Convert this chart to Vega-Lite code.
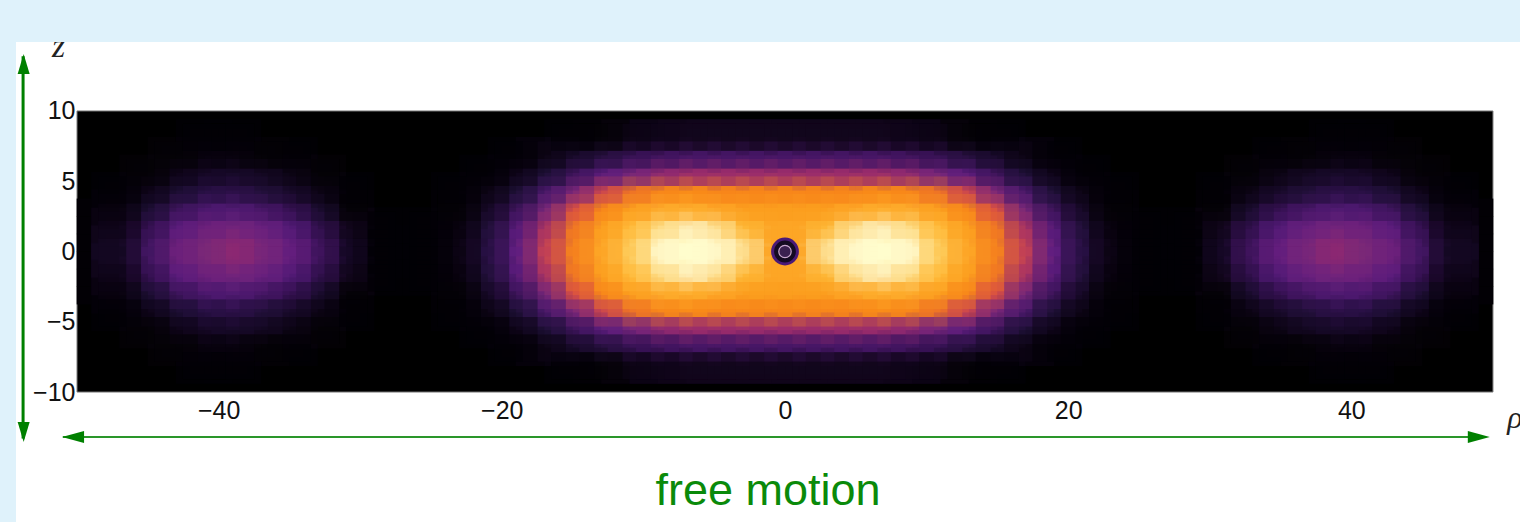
{"$schema":"https://vega.github.io/schema/vega-lite/v6.json","width":1504,"height":480,"autosize":"none","padding":{"left":16,"top":42,"right":0,"bottom":0},"background":"#dff2fb","view":{"fill":"white","stroke":null},
"config":{"axis":{"labelFont":"Liberation Sans","labelFontSize":25,"labelColor":"#111","domain":false,"ticks":false,"grid":false,"title":null,"labelOverlap":false,"labelFlush":false,"labelBound":false}},
"datasets":{"cells":[
{"r":1,"z":0.625,"v":0.72},{"r":3,"z":0.625,"v":0.84},{"r":5,"z":0.625,"v":0.94},{"r":7,"z":0.625,"v":1},{"r":9,"z":0.625,"v":0.92},{"r":11,"z":0.625,"v":0.8},{"r":13,"z":0.625,"v":0.72},{"r":15,"z":0.625,"v":0.64},{"r":17,"z":0.625,"v":0.52},{"r":19,"z":0.625,"v":0.34},{"r":21,"z":0.625,"v":0.17},{"r":23,"z":0.625,"v":0.06},{"r":25,"z":0.625,"v":0.015},{"r":29,"z":0.625,"v":0.01},{"r":31,"z":0.625,"v":0.1},{"r":33,"z":0.625,"v":0.24},{"r":35,"z":0.625,"v":0.35},{"r":37,"z":0.625,"v":0.41},{"r":39,"z":0.625,"v":0.44},{"r":41,"z":0.625,"v":0.42},{"r":43,"z":0.625,"v":0.37},{"r":45,"z":0.625,"v":0.25},{"r":47,"z":0.625,"v":0.09},{"r":49,"z":0.625,"v":0.02},
{"r":-1,"z":0.625,"v":0.72},{"r":-3,"z":0.625,"v":0.84},{"r":-5,"z":0.625,"v":0.94},{"r":-7,"z":0.625,"v":1},{"r":-9,"z":0.625,"v":0.92},{"r":-11,"z":0.625,"v":0.8},{"r":-13,"z":0.625,"v":0.72},{"r":-15,"z":0.625,"v":0.64},{"r":-17,"z":0.625,"v":0.52},{"r":-19,"z":0.625,"v":0.34},{"r":-21,"z":0.625,"v":0.17},{"r":-23,"z":0.625,"v":0.06},{"r":-25,"z":0.625,"v":0.015},{"r":-29,"z":0.625,"v":0.01},{"r":-31,"z":0.625,"v":0.1},{"r":-33,"z":0.625,"v":0.24},{"r":-35,"z":0.625,"v":0.35},{"r":-37,"z":0.625,"v":0.41},{"r":-39,"z":0.625,"v":0.44},{"r":-41,"z":0.625,"v":0.42},{"r":-43,"z":0.625,"v":0.37},{"r":-45,"z":0.625,"v":0.25},{"r":-47,"z":0.625,"v":0.09},{"r":-49,"z":0.625,"v":0.02},
{"r":1,"z":-0.625,"v":0.72},{"r":3,"z":-0.625,"v":0.84},{"r":5,"z":-0.625,"v":0.94},{"r":7,"z":-0.625,"v":1},{"r":9,"z":-0.625,"v":0.92},{"r":11,"z":-0.625,"v":0.8},{"r":13,"z":-0.625,"v":0.72},{"r":15,"z":-0.625,"v":0.64},{"r":17,"z":-0.625,"v":0.52},{"r":19,"z":-0.625,"v":0.34},{"r":21,"z":-0.625,"v":0.17},{"r":23,"z":-0.625,"v":0.06},{"r":25,"z":-0.625,"v":0.015},{"r":29,"z":-0.625,"v":0.01},{"r":31,"z":-0.625,"v":0.1},{"r":33,"z":-0.625,"v":0.24},{"r":35,"z":-0.625,"v":0.35},{"r":37,"z":-0.625,"v":0.41},{"r":39,"z":-0.625,"v":0.44},{"r":41,"z":-0.625,"v":0.42},{"r":43,"z":-0.625,"v":0.37},{"r":45,"z":-0.625,"v":0.25},{"r":47,"z":-0.625,"v":0.09},{"r":49,"z":-0.625,"v":0.02},
{"r":-1,"z":-0.625,"v":0.72},{"r":-3,"z":-0.625,"v":0.84},{"r":-5,"z":-0.625,"v":0.94},{"r":-7,"z":-0.625,"v":1},{"r":-9,"z":-0.625,"v":0.92},{"r":-11,"z":-0.625,"v":0.8},{"r":-13,"z":-0.625,"v":0.72},{"r":-15,"z":-0.625,"v":0.64},{"r":-17,"z":-0.625,"v":0.52},{"r":-19,"z":-0.625,"v":0.34},{"r":-21,"z":-0.625,"v":0.17},{"r":-23,"z":-0.625,"v":0.06},{"r":-25,"z":-0.625,"v":0.015},{"r":-29,"z":-0.625,"v":0.01},{"r":-31,"z":-0.625,"v":0.1},{"r":-33,"z":-0.625,"v":0.24},{"r":-35,"z":-0.625,"v":0.35},{"r":-37,"z":-0.625,"v":0.41},{"r":-39,"z":-0.625,"v":0.44},{"r":-41,"z":-0.625,"v":0.42},{"r":-43,"z":-0.625,"v":0.37},{"r":-45,"z":-0.625,"v":0.25},{"r":-47,"z":-0.625,"v":0.09},{"r":-49,"z":-0.625,"v":0.02},
{"r":1,"z":1.875,"v":0.72},{"r":3,"z":1.875,"v":0.76},{"r":5,"z":1.875,"v":0.84},{"r":7,"z":1.875,"v":0.87},{"r":9,"z":1.875,"v":0.83},{"r":11,"z":1.875,"v":0.77},{"r":13,"z":1.875,"v":0.7},{"r":15,"z":1.875,"v":0.62},{"r":17,"z":1.875,"v":0.48},{"r":19,"z":1.875,"v":0.31},{"r":21,"z":1.875,"v":0.15},{"r":23,"z":1.875,"v":0.05},{"r":25,"z":1.875,"v":0.01},{"r":29,"z":1.875,"v":0.01},{"r":31,"z":1.875,"v":0.08},{"r":33,"z":1.875,"v":0.19},{"r":35,"z":1.875,"v":0.3},{"r":37,"z":1.875,"v":0.36},{"r":39,"z":1.875,"v":0.39},{"r":41,"z":1.875,"v":0.37},{"r":43,"z":1.875,"v":0.32},{"r":45,"z":1.875,"v":0.2},{"r":47,"z":1.875,"v":0.07},{"r":49,"z":1.875,"v":0.015},
{"r":-1,"z":1.875,"v":0.72},{"r":-3,"z":1.875,"v":0.76},{"r":-5,"z":1.875,"v":0.84},{"r":-7,"z":1.875,"v":0.87},{"r":-9,"z":1.875,"v":0.83},{"r":-11,"z":1.875,"v":0.77},{"r":-13,"z":1.875,"v":0.7},{"r":-15,"z":1.875,"v":0.62},{"r":-17,"z":1.875,"v":0.48},{"r":-19,"z":1.875,"v":0.31},{"r":-21,"z":1.875,"v":0.15},{"r":-23,"z":1.875,"v":0.05},{"r":-25,"z":1.875,"v":0.01},{"r":-29,"z":1.875,"v":0.01},{"r":-31,"z":1.875,"v":0.08},{"r":-33,"z":1.875,"v":0.19},{"r":-35,"z":1.875,"v":0.3},{"r":-37,"z":1.875,"v":0.36},{"r":-39,"z":1.875,"v":0.39},{"r":-41,"z":1.875,"v":0.37},{"r":-43,"z":1.875,"v":0.32},{"r":-45,"z":1.875,"v":0.2},{"r":-47,"z":1.875,"v":0.07},{"r":-49,"z":1.875,"v":0.015},
{"r":1,"z":-1.875,"v":0.72},{"r":3,"z":-1.875,"v":0.76},{"r":5,"z":-1.875,"v":0.84},{"r":7,"z":-1.875,"v":0.87},{"r":9,"z":-1.875,"v":0.83},{"r":11,"z":-1.875,"v":0.77},{"r":13,"z":-1.875,"v":0.7},{"r":15,"z":-1.875,"v":0.62},{"r":17,"z":-1.875,"v":0.48},{"r":19,"z":-1.875,"v":0.31},{"r":21,"z":-1.875,"v":0.15},{"r":23,"z":-1.875,"v":0.05},{"r":25,"z":-1.875,"v":0.01},{"r":29,"z":-1.875,"v":0.01},{"r":31,"z":-1.875,"v":0.08},{"r":33,"z":-1.875,"v":0.19},{"r":35,"z":-1.875,"v":0.3},{"r":37,"z":-1.875,"v":0.36},{"r":39,"z":-1.875,"v":0.39},{"r":41,"z":-1.875,"v":0.37},{"r":43,"z":-1.875,"v":0.32},{"r":45,"z":-1.875,"v":0.2},{"r":47,"z":-1.875,"v":0.07},{"r":49,"z":-1.875,"v":0.015},
{"r":-1,"z":-1.875,"v":0.72},{"r":-3,"z":-1.875,"v":0.76},{"r":-5,"z":-1.875,"v":0.84},{"r":-7,"z":-1.875,"v":0.87},{"r":-9,"z":-1.875,"v":0.83},{"r":-11,"z":-1.875,"v":0.77},{"r":-13,"z":-1.875,"v":0.7},{"r":-15,"z":-1.875,"v":0.62},{"r":-17,"z":-1.875,"v":0.48},{"r":-19,"z":-1.875,"v":0.31},{"r":-21,"z":-1.875,"v":0.15},{"r":-23,"z":-1.875,"v":0.05},{"r":-25,"z":-1.875,"v":0.01},{"r":-29,"z":-1.875,"v":0.01},{"r":-31,"z":-1.875,"v":0.08},{"r":-33,"z":-1.875,"v":0.19},{"r":-35,"z":-1.875,"v":0.3},{"r":-37,"z":-1.875,"v":0.36},{"r":-39,"z":-1.875,"v":0.39},{"r":-41,"z":-1.875,"v":0.37},{"r":-43,"z":-1.875,"v":0.32},{"r":-45,"z":-1.875,"v":0.2},{"r":-47,"z":-1.875,"v":0.07},{"r":-49,"z":-1.875,"v":0.015},
{"r":1,"z":3.125,"v":0.7},{"r":3,"z":3.125,"v":0.7},{"r":5,"z":3.125,"v":0.72},{"r":7,"z":3.125,"v":0.74},{"r":9,"z":3.125,"v":0.73},{"r":11,"z":3.125,"v":0.7},{"r":13,"z":3.125,"v":0.65},{"r":15,"z":3.125,"v":0.55},{"r":17,"z":3.125,"v":0.4},{"r":19,"z":3.125,"v":0.23},{"r":21,"z":3.125,"v":0.1},{"r":23,"z":3.125,"v":0.03},{"r":31,"z":3.125,"v":0.04},{"r":33,"z":3.125,"v":0.12},{"r":35,"z":3.125,"v":0.2},{"r":37,"z":3.125,"v":0.26},{"r":39,"z":3.125,"v":0.29},{"r":41,"z":3.125,"v":0.28},{"r":43,"z":3.125,"v":0.23},{"r":45,"z":3.125,"v":0.13},{"r":47,"z":3.125,"v":0.05},{"r":49,"z":3.125,"v":0.01},
{"r":-1,"z":3.125,"v":0.7},{"r":-3,"z":3.125,"v":0.7},{"r":-5,"z":3.125,"v":0.72},{"r":-7,"z":3.125,"v":0.74},{"r":-9,"z":3.125,"v":0.73},{"r":-11,"z":3.125,"v":0.7},{"r":-13,"z":3.125,"v":0.65},{"r":-15,"z":3.125,"v":0.55},{"r":-17,"z":3.125,"v":0.4},{"r":-19,"z":3.125,"v":0.23},{"r":-21,"z":3.125,"v":0.1},{"r":-23,"z":3.125,"v":0.03},{"r":-31,"z":3.125,"v":0.04},{"r":-33,"z":3.125,"v":0.12},{"r":-35,"z":3.125,"v":0.2},{"r":-37,"z":3.125,"v":0.26},{"r":-39,"z":3.125,"v":0.29},{"r":-41,"z":3.125,"v":0.28},{"r":-43,"z":3.125,"v":0.23},{"r":-45,"z":3.125,"v":0.13},{"r":-47,"z":3.125,"v":0.05},{"r":-49,"z":3.125,"v":0.01},
{"r":1,"z":-3.125,"v":0.7},{"r":3,"z":-3.125,"v":0.7},{"r":5,"z":-3.125,"v":0.72},{"r":7,"z":-3.125,"v":0.74},{"r":9,"z":-3.125,"v":0.73},{"r":11,"z":-3.125,"v":0.7},{"r":13,"z":-3.125,"v":0.65},{"r":15,"z":-3.125,"v":0.55},{"r":17,"z":-3.125,"v":0.4},{"r":19,"z":-3.125,"v":0.23},{"r":21,"z":-3.125,"v":0.1},{"r":23,"z":-3.125,"v":0.03},{"r":31,"z":-3.125,"v":0.04},{"r":33,"z":-3.125,"v":0.12},{"r":35,"z":-3.125,"v":0.2},{"r":37,"z":-3.125,"v":0.26},{"r":39,"z":-3.125,"v":0.29},{"r":41,"z":-3.125,"v":0.28},{"r":43,"z":-3.125,"v":0.23},{"r":45,"z":-3.125,"v":0.13},{"r":47,"z":-3.125,"v":0.05},{"r":49,"z":-3.125,"v":0.01},
{"r":-1,"z":-3.125,"v":0.7},{"r":-3,"z":-3.125,"v":0.7},{"r":-5,"z":-3.125,"v":0.72},{"r":-7,"z":-3.125,"v":0.74},{"r":-9,"z":-3.125,"v":0.73},{"r":-11,"z":-3.125,"v":0.7},{"r":-13,"z":-3.125,"v":0.65},{"r":-15,"z":-3.125,"v":0.55},{"r":-17,"z":-3.125,"v":0.4},{"r":-19,"z":-3.125,"v":0.23},{"r":-21,"z":-3.125,"v":0.1},{"r":-23,"z":-3.125,"v":0.03},{"r":-31,"z":-3.125,"v":0.04},{"r":-33,"z":-3.125,"v":0.12},{"r":-35,"z":-3.125,"v":0.2},{"r":-37,"z":-3.125,"v":0.26},{"r":-39,"z":-3.125,"v":0.29},{"r":-41,"z":-3.125,"v":0.28},{"r":-43,"z":-3.125,"v":0.23},{"r":-45,"z":-3.125,"v":0.13},{"r":-47,"z":-3.125,"v":0.05},{"r":-49,"z":-3.125,"v":0.01},
{"r":1,"z":4.375,"v":0.65},{"r":3,"z":4.375,"v":0.65},{"r":5,"z":4.375,"v":0.65},{"r":7,"z":4.375,"v":0.66},{"r":9,"z":4.375,"v":0.65},{"r":11,"z":4.375,"v":0.61},{"r":13,"z":4.375,"v":0.53},{"r":15,"z":4.375,"v":0.41},{"r":17,"z":4.375,"v":0.27},{"r":19,"z":4.375,"v":0.14},{"r":21,"z":4.375,"v":0.06},{"r":23,"z":4.375,"v":0.015},{"r":31,"z":4.375,"v":0.02},{"r":33,"z":4.375,"v":0.06},{"r":35,"z":4.375,"v":0.11},{"r":37,"z":4.375,"v":0.15},{"r":39,"z":4.375,"v":0.18},{"r":41,"z":4.375,"v":0.17},{"r":43,"z":4.375,"v":0.13},{"r":45,"z":4.375,"v":0.07},{"r":47,"z":4.375,"v":0.02},
{"r":-1,"z":4.375,"v":0.65},{"r":-3,"z":4.375,"v":0.65},{"r":-5,"z":4.375,"v":0.65},{"r":-7,"z":4.375,"v":0.66},{"r":-9,"z":4.375,"v":0.65},{"r":-11,"z":4.375,"v":0.61},{"r":-13,"z":4.375,"v":0.53},{"r":-15,"z":4.375,"v":0.41},{"r":-17,"z":4.375,"v":0.27},{"r":-19,"z":4.375,"v":0.14},{"r":-21,"z":4.375,"v":0.06},{"r":-23,"z":4.375,"v":0.015},{"r":-31,"z":4.375,"v":0.02},{"r":-33,"z":4.375,"v":0.06},{"r":-35,"z":4.375,"v":0.11},{"r":-37,"z":4.375,"v":0.15},{"r":-39,"z":4.375,"v":0.18},{"r":-41,"z":4.375,"v":0.17},{"r":-43,"z":4.375,"v":0.13},{"r":-45,"z":4.375,"v":0.07},{"r":-47,"z":4.375,"v":0.02},
{"r":1,"z":-4.375,"v":0.65},{"r":3,"z":-4.375,"v":0.65},{"r":5,"z":-4.375,"v":0.65},{"r":7,"z":-4.375,"v":0.66},{"r":9,"z":-4.375,"v":0.65},{"r":11,"z":-4.375,"v":0.61},{"r":13,"z":-4.375,"v":0.53},{"r":15,"z":-4.375,"v":0.41},{"r":17,"z":-4.375,"v":0.27},{"r":19,"z":-4.375,"v":0.14},{"r":21,"z":-4.375,"v":0.06},{"r":23,"z":-4.375,"v":0.015},{"r":31,"z":-4.375,"v":0.02},{"r":33,"z":-4.375,"v":0.06},{"r":35,"z":-4.375,"v":0.11},{"r":37,"z":-4.375,"v":0.15},{"r":39,"z":-4.375,"v":0.18},{"r":41,"z":-4.375,"v":0.17},{"r":43,"z":-4.375,"v":0.13},{"r":45,"z":-4.375,"v":0.07},{"r":47,"z":-4.375,"v":0.02},
{"r":-1,"z":-4.375,"v":0.65},{"r":-3,"z":-4.375,"v":0.65},{"r":-5,"z":-4.375,"v":0.65},{"r":-7,"z":-4.375,"v":0.66},{"r":-9,"z":-4.375,"v":0.65},{"r":-11,"z":-4.375,"v":0.61},{"r":-13,"z":-4.375,"v":0.53},{"r":-15,"z":-4.375,"v":0.41},{"r":-17,"z":-4.375,"v":0.27},{"r":-19,"z":-4.375,"v":0.14},{"r":-21,"z":-4.375,"v":0.06},{"r":-23,"z":-4.375,"v":0.015},{"r":-31,"z":-4.375,"v":0.02},{"r":-33,"z":-4.375,"v":0.06},{"r":-35,"z":-4.375,"v":0.11},{"r":-37,"z":-4.375,"v":0.15},{"r":-39,"z":-4.375,"v":0.18},{"r":-41,"z":-4.375,"v":0.17},{"r":-43,"z":-4.375,"v":0.13},{"r":-45,"z":-4.375,"v":0.07},{"r":-47,"z":-4.375,"v":0.02},
{"r":1,"z":5.625,"v":0.46},{"r":3,"z":5.625,"v":0.46},{"r":5,"z":5.625,"v":0.46},{"r":7,"z":5.625,"v":0.46},{"r":9,"z":5.625,"v":0.44},{"r":11,"z":5.625,"v":0.39},{"r":13,"z":5.625,"v":0.32},{"r":15,"z":5.625,"v":0.23},{"r":17,"z":5.625,"v":0.14},{"r":19,"z":5.625,"v":0.07},{"r":21,"z":5.625,"v":0.025},{"r":33,"z":5.625,"v":0.03},{"r":35,"z":5.625,"v":0.06},{"r":37,"z":5.625,"v":0.09},{"r":39,"z":5.625,"v":0.11},{"r":41,"z":5.625,"v":0.1},{"r":43,"z":5.625,"v":0.07},{"r":45,"z":5.625,"v":0.03},
{"r":-1,"z":5.625,"v":0.46},{"r":-3,"z":5.625,"v":0.46},{"r":-5,"z":5.625,"v":0.46},{"r":-7,"z":5.625,"v":0.46},{"r":-9,"z":5.625,"v":0.44},{"r":-11,"z":5.625,"v":0.39},{"r":-13,"z":5.625,"v":0.32},{"r":-15,"z":5.625,"v":0.23},{"r":-17,"z":5.625,"v":0.14},{"r":-19,"z":5.625,"v":0.07},{"r":-21,"z":5.625,"v":0.025},{"r":-33,"z":5.625,"v":0.03},{"r":-35,"z":5.625,"v":0.06},{"r":-37,"z":5.625,"v":0.09},{"r":-39,"z":5.625,"v":0.11},{"r":-41,"z":5.625,"v":0.1},{"r":-43,"z":5.625,"v":0.07},{"r":-45,"z":5.625,"v":0.03},
{"r":1,"z":-5.625,"v":0.46},{"r":3,"z":-5.625,"v":0.46},{"r":5,"z":-5.625,"v":0.46},{"r":7,"z":-5.625,"v":0.46},{"r":9,"z":-5.625,"v":0.44},{"r":11,"z":-5.625,"v":0.39},{"r":13,"z":-5.625,"v":0.32},{"r":15,"z":-5.625,"v":0.23},{"r":17,"z":-5.625,"v":0.14},{"r":19,"z":-5.625,"v":0.07},{"r":21,"z":-5.625,"v":0.025},{"r":33,"z":-5.625,"v":0.03},{"r":35,"z":-5.625,"v":0.06},{"r":37,"z":-5.625,"v":0.09},{"r":39,"z":-5.625,"v":0.11},{"r":41,"z":-5.625,"v":0.1},{"r":43,"z":-5.625,"v":0.07},{"r":45,"z":-5.625,"v":0.03},
{"r":-1,"z":-5.625,"v":0.46},{"r":-3,"z":-5.625,"v":0.46},{"r":-5,"z":-5.625,"v":0.46},{"r":-7,"z":-5.625,"v":0.46},{"r":-9,"z":-5.625,"v":0.44},{"r":-11,"z":-5.625,"v":0.39},{"r":-13,"z":-5.625,"v":0.32},{"r":-15,"z":-5.625,"v":0.23},{"r":-17,"z":-5.625,"v":0.14},{"r":-19,"z":-5.625,"v":0.07},{"r":-21,"z":-5.625,"v":0.025},{"r":-33,"z":-5.625,"v":0.03},{"r":-35,"z":-5.625,"v":0.06},{"r":-37,"z":-5.625,"v":0.09},{"r":-39,"z":-5.625,"v":0.11},{"r":-41,"z":-5.625,"v":0.1},{"r":-43,"z":-5.625,"v":0.07},{"r":-45,"z":-5.625,"v":0.03},
{"r":1,"z":6.875,"v":0.26},{"r":3,"z":6.875,"v":0.26},{"r":5,"z":6.875,"v":0.26},{"r":7,"z":6.875,"v":0.26},{"r":9,"z":6.875,"v":0.24},{"r":11,"z":6.875,"v":0.21},{"r":13,"z":6.875,"v":0.16},{"r":15,"z":6.875,"v":0.11},{"r":17,"z":6.875,"v":0.06},{"r":19,"z":6.875,"v":0.025},{"r":35,"z":6.875,"v":0.025},{"r":37,"z":6.875,"v":0.04},{"r":39,"z":6.875,"v":0.05},{"r":41,"z":6.875,"v":0.05},{"r":43,"z":6.875,"v":0.03},
{"r":-1,"z":6.875,"v":0.26},{"r":-3,"z":6.875,"v":0.26},{"r":-5,"z":6.875,"v":0.26},{"r":-7,"z":6.875,"v":0.26},{"r":-9,"z":6.875,"v":0.24},{"r":-11,"z":6.875,"v":0.21},{"r":-13,"z":6.875,"v":0.16},{"r":-15,"z":6.875,"v":0.11},{"r":-17,"z":6.875,"v":0.06},{"r":-19,"z":6.875,"v":0.025},{"r":-35,"z":6.875,"v":0.025},{"r":-37,"z":6.875,"v":0.04},{"r":-39,"z":6.875,"v":0.05},{"r":-41,"z":6.875,"v":0.05},{"r":-43,"z":6.875,"v":0.03},
{"r":1,"z":-6.875,"v":0.26},{"r":3,"z":-6.875,"v":0.26},{"r":5,"z":-6.875,"v":0.26},{"r":7,"z":-6.875,"v":0.26},{"r":9,"z":-6.875,"v":0.24},{"r":11,"z":-6.875,"v":0.21},{"r":13,"z":-6.875,"v":0.16},{"r":15,"z":-6.875,"v":0.11},{"r":17,"z":-6.875,"v":0.06},{"r":19,"z":-6.875,"v":0.025},{"r":35,"z":-6.875,"v":0.025},{"r":37,"z":-6.875,"v":0.04},{"r":39,"z":-6.875,"v":0.05},{"r":41,"z":-6.875,"v":0.05},{"r":43,"z":-6.875,"v":0.03},
{"r":-1,"z":-6.875,"v":0.26},{"r":-3,"z":-6.875,"v":0.26},{"r":-5,"z":-6.875,"v":0.26},{"r":-7,"z":-6.875,"v":0.26},{"r":-9,"z":-6.875,"v":0.24},{"r":-11,"z":-6.875,"v":0.21},{"r":-13,"z":-6.875,"v":0.16},{"r":-15,"z":-6.875,"v":0.11},{"r":-17,"z":-6.875,"v":0.06},{"r":-19,"z":-6.875,"v":0.025},{"r":-35,"z":-6.875,"v":0.025},{"r":-37,"z":-6.875,"v":0.04},{"r":-39,"z":-6.875,"v":0.05},{"r":-41,"z":-6.875,"v":0.05},{"r":-43,"z":-6.875,"v":0.03},
{"r":1,"z":8.125,"v":0.08},{"r":3,"z":8.125,"v":0.08},{"r":5,"z":8.125,"v":0.08},{"r":7,"z":8.125,"v":0.08},{"r":9,"z":8.125,"v":0.07},{"r":11,"z":8.125,"v":0.06},{"r":13,"z":8.125,"v":0.04},{"r":15,"z":8.125,"v":0.025},{"r":39,"z":8.125,"v":0.015},{"r":41,"z":8.125,"v":0.015},
{"r":-1,"z":8.125,"v":0.08},{"r":-3,"z":8.125,"v":0.08},{"r":-5,"z":8.125,"v":0.08},{"r":-7,"z":8.125,"v":0.08},{"r":-9,"z":8.125,"v":0.07},{"r":-11,"z":8.125,"v":0.06},{"r":-13,"z":8.125,"v":0.04},{"r":-15,"z":8.125,"v":0.025},{"r":-39,"z":8.125,"v":0.015},{"r":-41,"z":8.125,"v":0.015},
{"r":1,"z":-8.125,"v":0.08},{"r":3,"z":-8.125,"v":0.08},{"r":5,"z":-8.125,"v":0.08},{"r":7,"z":-8.125,"v":0.08},{"r":9,"z":-8.125,"v":0.07},{"r":11,"z":-8.125,"v":0.06},{"r":13,"z":-8.125,"v":0.04},{"r":15,"z":-8.125,"v":0.025},{"r":39,"z":-8.125,"v":0.015},{"r":41,"z":-8.125,"v":0.015},
{"r":-1,"z":-8.125,"v":0.08},{"r":-3,"z":-8.125,"v":0.08},{"r":-5,"z":-8.125,"v":0.08},{"r":-7,"z":-8.125,"v":0.08},{"r":-9,"z":-8.125,"v":0.07},{"r":-11,"z":-8.125,"v":0.06},{"r":-13,"z":-8.125,"v":0.04},{"r":-15,"z":-8.125,"v":0.025},{"r":-39,"z":-8.125,"v":0.015},{"r":-41,"z":-8.125,"v":0.015}
]},
"encoding":{"x":{"field":"r","type":"quantitative","scale":{"domain":[-54.31,51.91],"nice":false,"zero":false},"axis":{"values":[-40,-20,0,20,40],"offset":-130,"labelPadding":6,"tickSize":0}},"y":{"field":"z","type":"quantitative","scale":{"domain":[-19.25,14.91],"nice":false,"zero":false},"axis":{"values":[-10,-5,0,5,10],"offset":-61,"labelPadding":2,"tickSize":0}},"color":{"field":"v","type":"quantitative","legend":null,"scale":{"domain":[0,0.04,0.1,0.2,0.33,0.42,0.5,0.58,0.67,0.78,0.88,1],"range":["#000000","#030106","#150825","#33104f","#5c1c80","#7a2878","#b03a5c","#e4622c","#fb9112","#ffbe3c","#fff0c0","#ffffff"]}}},
"layer":[
{"data":{"values":[{"r":-50,"r2":50,"z":-10,"z2":10}]},"mark":{"type":"rect","fill":"#000","stroke":"#777","strokeWidth":1},"encoding":{"color":{"value":"#000"},"x2":{"field":"r2"},"y2":{"field":"z2"}}},
{"data":{"name":"cells"},"mark":{"type":"rect","width":29,"height":18}},
{"data":{"name":"cells"},"transform":[{"filter":"abs(datum.z)<9&&abs(datum.r)<48"}],"mark":{"type":"rect","width":57,"height":36,"opacity":0.5},"encoding":{"order":[{"field":"r"},{"field":"z"}]}},
{"data":{"name":"cells"},"transform":[{"filter":"abs(datum.z)<9&&abs(datum.r)<48"}],"mark":{"type":"rect","width":57,"height":36,"opacity":0.5},"encoding":{"order":[{"field":"r","sort":"descending"},{"field":"z","sort":"descending"}]}},
{"data":{"name":"cells"},"transform":[{"filter":"abs(datum.z)<9&&abs(datum.r)<48"}],"mark":{"type":"rect","width":43,"height":27,"opacity":0.5},"encoding":{"order":[{"field":"r"},{"field":"z","sort":"descending"}]}},
{"data":{"name":"cells"},"transform":[{"filter":"abs(datum.z)<9&&abs(datum.r)<48"}],"mark":{"type":"rect","width":43,"height":27,"opacity":0.5},"encoding":{"order":[{"field":"r","sort":"descending"},{"field":"z"}]}},
{"data":{"values":[{"r":0,"z":0}]},"mark":{"type":"point","filled":true,"size":615,"fill":"#140a22","stroke":"#4b1a78","strokeWidth":3,"opacity":1},"encoding":{"color":{"value":"#140a22"}}},
{"data":{"values":[{"r":0,"z":0}]},"mark":{"type":"point","filled":false,"size":154,"strokeWidth":1.2,"fill":"#3a2050","fillOpacity":1,"opacity":1},"encoding":{"color":{"value":"#c9a8d0"}}},
{"data":{"values":[{"r":-53.81,"z":13.9,"z2":-13.3}]},"mark":{"type":"rule","strokeWidth":3},"encoding":{"color":{"value":"#008000"},"y2":{"field":"z2"}}},
{"data":{"values":[{"r":-51,"r2":49.5,"z":-13.2}]},"mark":{"type":"rule","strokeWidth":2},"encoding":{"color":{"value":"#2a962a"},"x2":{"field":"r2"}}},
{"data":{"values":[{"r":-53.77,"z":13.35}]},"mark":{"type":"point","filled":true,"opacity":1,"size":400,"shape":"M0,-1L0.6,1L-0.6,1Z"},"encoding":{"color":{"value":"#008000"}}},
{"data":{"values":[{"r":-53.77,"z":-12.85}]},"mark":{"type":"point","filled":true,"opacity":1,"size":400,"shape":"M0,1L0.6,-1L-0.6,-1Z"},"encoding":{"color":{"value":"#008000"}}},
{"data":{"values":[{"r":-50.28,"z":-13.2}]},"mark":{"type":"point","filled":true,"opacity":1,"size":484,"shape":"M-1,0L1,-0.55L1,0.55Z"},"encoding":{"color":{"value":"#008000"}}},
{"data":{"values":[{"r":49,"z":-13.2}]},"mark":{"type":"point","filled":true,"opacity":1,"size":484,"shape":"M1,0L-1,-0.55L-1,0.55Z"},"encoding":{"color":{"value":"#008000"}}},
{"data":{"values":[{"r":-1.2,"z":-17.05,"t":"free motion"}]},"mark":{"type":"text","font":"Liberation Sans","fontSize":45,"align":"center","baseline":"middle"},"encoding":{"color":{"value":"#0a8a0a"},"text":{"field":"t"}}},
{"data":{"values":[{"r":-51.3,"z":14.55,"t":"z"}]},"mark":{"type":"text","font":"Liberation Serif","fontStyle":"italic","fontSize":34,"align":"center","baseline":"middle","clip":true},"encoding":{"color":{"value":"#222"},"text":{"field":"t"}}},
{"data":{"values":[{"r":51.55,"z":-11.85,"t":"ρ"}]},"mark":{"type":"text","font":"Liberation Serif","fontStyle":"italic","fontSize":32,"align":"center","baseline":"middle","clip":true},"encoding":{"color":{"value":"#222"},"text":{"field":"t"}}}
]}
